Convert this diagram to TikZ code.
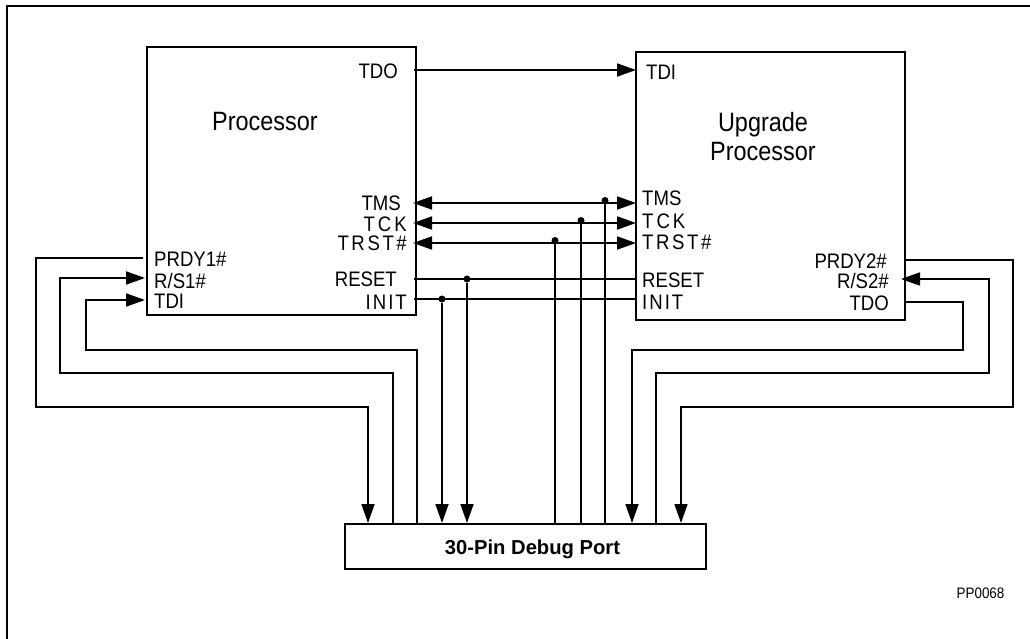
\documentclass[tikz,border=0pt]{standalone}
\usepackage{fontspec}
\setmainfont{Liberation Sans}
\newfontfamily\narrowfont[FakeStretch=0.885]{Liberation Sans}
\usetikzlibrary{arrows.meta}
\tikzset{
  chip/.style={draw,line width=2pt,inner sep=0pt,anchor=north west},
  title/.style={inner sep=0pt,align=center,font=\narrowfont\fontsize{26.5}{29}\selectfont},
  pinlabel/.style={inner sep=0pt,text height=15pt,text depth=0pt,font=\narrowfont\fontsize{21}{22}\selectfont},
  junction/.style={circle,fill,inner sep=0pt,minimum size=7pt},
  wire/.style={line width=1.8pt},
  into/.style={wire,-{Triangle[length=19pt,width=13pt]}},
  both/.style={wire,{Triangle[length=19pt,width=13pt]}-{Triangle[length=19pt,width=13pt]}}
}
\begin{document}
\begin{tikzpicture}[x=1pt,y=-1pt]
  \useasboundingbox (0,0) rectangle (1030,639);
  \coordinate (frameA) at (7,639);
  \coordinate (frameB) at (7,6);
  \coordinate (frameC) at (1030,6);
  \draw[line width=2.2pt] (frameA) -- (frameB) -- (frameC);

  \node[chip,minimum width=269pt,minimum height=268pt] (cpu) at (145.5,46) {};
  \node[chip,minimum width=269pt,minimum height=268pt] (upg) at (635,51) {};
  \node[chip,minimum width=361pt,minimum height=45pt] (dbg) at (344,523) {};
  \node[inner sep=0pt,font=\fontsize{20.2}{24}\bfseries\selectfont] (dbgname) at (532.5,549) {30-Pin Debug Port};

  \node[title] (cpuname) at (265,122) {Processor};
  \node[title] (upgname) at (763,137) {Upgrade\\Processor};
  \node[inner sep=0pt,font=\narrowfont\fontsize{15.2}{16}\selectfont] (tag) at (980.5,593) {PP0068};

  % labels, processor
  \node[pinlabel,anchor=east] (lTdo) at (398,71) {TDO};
  \node[pinlabel,anchor=east] (lTms) at (401,203) {TMS};
  \node[pinlabel,anchor=east] (lTck) at (407,224) {T\kern3pt C\kern3pt K};
  \node[pinlabel,anchor=east] (lTrst) at (407,243) {T\kern2.6pt R\kern2.6pt S\kern2.6pt T\kern2.6pt\#};
  \node[pinlabel,anchor=east] (lRst) at (397,279) {RESET};
  \node[pinlabel,anchor=east] (lInit) at (407,302) {I\kern2pt N\kern2pt I\kern2pt T};
  \node[pinlabel,anchor=west] (lPrdy) at (154,259) {PRDY1\#};
  \node[pinlabel,anchor=west] (lRs) at (154,281) {R/S1\#};
  \node[pinlabel,anchor=west] (lTdi) at (154,301) {TDI};

  % labels, upgrade
  \node[pinlabel,anchor=west] (rTdi) at (646,72) {TDI};
  \node[pinlabel,anchor=west] (rTms) at (642,198) {TMS};
  \node[pinlabel,anchor=west] (rTck) at (642,221) {T\kern3pt C\kern3pt K};
  \node[pinlabel,anchor=west] (rTrst) at (642,242) {T\kern2.6pt R\kern2.6pt S\kern2.6pt T\kern2.6pt\#};
  \node[pinlabel,anchor=west] (rRst) at (642,280) {RESET};
  \node[pinlabel,anchor=west] (rInit) at (642,302) {I\kern2pt N\kern2pt I\kern2pt T};
  \node[pinlabel,anchor=east] (rPrdy) at (887,261) {PRDY2\#};
  \node[pinlabel,anchor=east] (rRs) at (889,281) {R/S2\#};
  \node[pinlabel,anchor=east] (rTdo) at (889,303) {TDO};

  % pins
  \coordinate (cTdo) at (414,70);
  \coordinate (uTdi) at (636,70);
  \coordinate (cTms) at (413,203);
  \coordinate (uTms) at (636,203);
  \coordinate (cTck) at (413,223);
  \coordinate (uTck) at (636,223);
  \coordinate (cTrst) at (413,243);
  \coordinate (uTrst) at (636,243);
  \coordinate (cRst) at (414,279);
  \coordinate (uRst) at (635,279);
  \coordinate (cInit) at (414,299);
  \coordinate (uInit) at (635,299);
  \coordinate (cPrdy) at (143,258);
  \coordinate (cRs) at (145,278);
  \coordinate (cTdi) at (145,300);
  \coordinate (uPrdy) at (904,260);
  \coordinate (uRs) at (901,279);
  \coordinate (uTdo) at (904,302);

  % debug port pins
  \coordinate (dA) at (368,523);
  \coordinate (dB) at (393,523);
  \coordinate (dC) at (417,523);
  \coordinate (dD) at (442,523);
  \coordinate (dE) at (467,523);
  \coordinate (dF) at (555,523);
  \coordinate (dG) at (581,523);
  \coordinate (dH) at (605,523);
  \coordinate (dI) at (632,523);
  \coordinate (dJ) at (656,523);
  \coordinate (dK) at (681,523);

  \node[junction] (jRst) at (467,279) {};
  \node[junction] (jInit) at (442,299) {};
  \node[junction] (jTms) at (605,200.5) {};
  \node[junction] (jTck) at (581,220.5) {};
  \node[junction] (jTrst) at (555,240.5) {};

  \draw[into] (cTdo) -- (uTdi);
  \draw[both] (cTms) -- (uTms);
  \draw[both] (cTck) -- (uTck);
  \draw[both] (cTrst) -- (uTrst);
  \draw[wire] (cRst) -- (uRst);
  \draw[wire] (cInit) -- (uInit);

  \draw[into] (jInit) -- (dD);
  \draw[into] (jRst) -- (dE);
  \draw[wire] (dF) -- (jTrst);
  \draw[wire] (dG) -- (jTck);
  \draw[wire] (dH) -- (jTms);

  \draw[into] (cPrdy) -| (36,407) -| (dA);
  \draw[into] (dB) |- (60,373) |- (cRs);
  \draw[into] (dC) |- (86,350) |- (cTdi);
  \draw[into] (uTdo) -| (963,350) -| (dI);
  \draw[into] (dJ) |- (989,373) |- (uRs);
  \draw[into] (uPrdy) -| (1013,407) -| (dK);
\end{tikzpicture}
\end{document}
